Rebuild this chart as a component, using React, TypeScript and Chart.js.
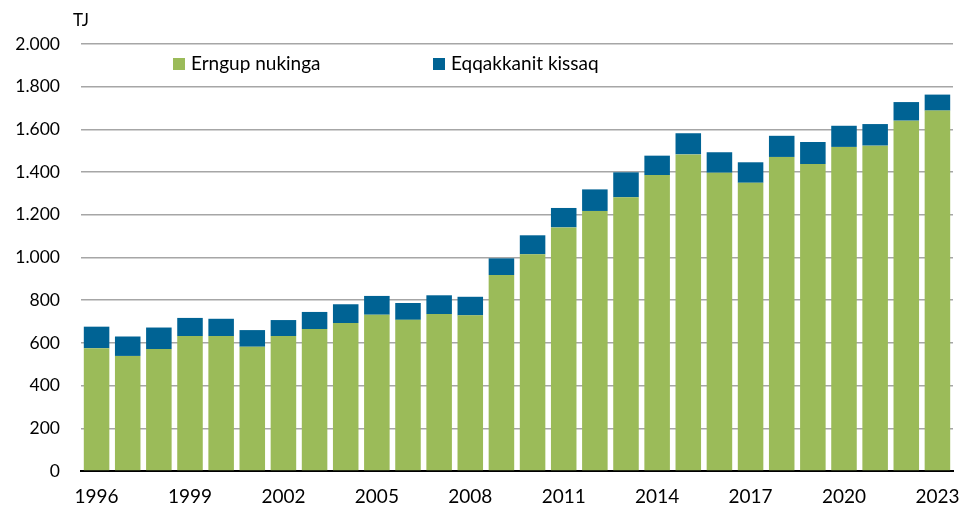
import React, { useEffect, useRef } from "react";
import { Chart, registerables } from "chart.js";

Chart.register(...registerables);

const years = [
  "1996", "1997", "1998", "1999", "2000", "2001", "2002", "2003", "2004", "2005",
  "2006", "2007", "2008", "2009", "2010", "2011", "2012", "2013", "2014", "2015",
  "2016", "2017", "2018", "2019", "2020", "2021", "2022", "2023",
];

const seriesNames = ["Erngup nukinga", "Eqqakkanit kissaq"];

const erngupNukinga = [
  575, 539, 571, 632, 632, 582, 632, 665, 693, 732,
  708, 735, 729, 918, 1015, 1141, 1218, 1282, 1386, 1483,
  1397, 1350, 1471, 1438, 1518, 1524, 1641, 1688,
];

const eqqakkanitKissaq = [
  101, 91, 101, 85, 81, 78, 75, 80, 88, 88,
  79, 88, 87, 78, 89, 91, 101, 117, 91, 99,
  96, 96, 99, 103, 99, 101, 87, 75,
];

const unitLabel = "TJ";
const yMax = 2000;
const yStep = 200;

const GREEN = "#9BBB59";
const BLUE = "#006394";
const FONT = "Lato, 'Open Sans', sans-serif";

function fmt(v: number): string {
  const s = Math.round(v).toString();
  return s.replace(/\B(?=(\d{3})+(?!\d))/g, ".");
}

const overlayPlugin = {
  id: "overlay",
  afterDraw(chart: any) {
    const ctx = chart.ctx;
    const ca = chart.chartArea;
    ctx.save();
    ctx.fillStyle = "#000";
    ctx.font = `17px ${FONT}`;
    ctx.textAlign = "left";
    ctx.textBaseline = "middle";
    ctx.fillText(unitLabel, ca.left - 8, 21);

    const items = [
      { name: seriesNames[0], color: GREEN, x: ca.left + 92 },
      { name: seriesNames[1], color: BLUE, x: ca.left + 352 },
    ];
    ctx.font = `19px ${FONT}`;
    items.forEach((it) => {
      ctx.fillStyle = it.color;
      ctx.fillRect(it.x, ca.top + 14, 12, 12);
      ctx.fillStyle = "#000";
      ctx.fillText(it.name, it.x + 18, ca.top + 20);
    });
    ctx.restore();
  },
};

export default function App() {
  const ref = useRef<HTMLCanvasElement | null>(null);

  useEffect(() => {
    document.body.style.margin = "0";
    if (!ref.current) return;
    const chart = new Chart(ref.current, {
      type: "bar",
      data: {
        labels: years,
        datasets: [
          {
            label: seriesNames[0],
            data: erngupNukinga,
            backgroundColor: GREEN,
            barPercentage: 0.82,
            categoryPercentage: 1,
          },
          {
            label: seriesNames[1],
            data: eqqakkanitKissaq,
            backgroundColor: BLUE,
            barPercentage: 0.82,
            categoryPercentage: 1,
          },
        ],
      },
      options: {
        animation: false,
        responsive: false,
        maintainAspectRatio: false,
        layout: { padding: { top: 44, right: 7, left: 0, bottom: 0 } },
        plugins: {
          legend: { display: false },
          tooltip: { enabled: false },
        },
        scales: {
          x: {
            stacked: true,
            grid: { display: false, drawTicks: false },
            border: { display: true, color: "#000", width: 2 },
            ticks: {
              autoSkip: false,
              maxRotation: 0,
              minRotation: 0,
              padding: 14,
              color: "#000",
              font: { family: FONT, size: 19 },
              callback: (_v: any, i: number) => (i % 3 === 0 ? years[i] : ""),
            },
            afterFit: (scale: any) => {
              scale.height = 35;
              scale.paddingLeft = 0;
              scale.paddingRight = 0;
            },
          },
          y: {
            stacked: true,
            min: 0,
            max: yMax,
            grid: { color: "#a6a6a6", lineWidth: 1.5, drawTicks: false },
            border: { display: false },
            ticks: {
              stepSize: yStep,
              padding: 21,
              color: "#000",
              font: { family: FONT, size: 17.5 },
              callback: (v: any) => fmt(Number(v)),
            },
            afterFit: (scale: any) => {
              scale.width = 81;
              scale.paddingTop = 0;
              scale.paddingBottom = 0;
            },
          },
        },
      },
      plugins: [overlayPlugin],
    });
    return () => chart.destroy();
  }, []);

  return (
    <div style={{ width: 960, height: 506 }}>
      <canvas ref={ref} width={960} height={506} style={{ display: "block" }} />
    </div>
  );
}
